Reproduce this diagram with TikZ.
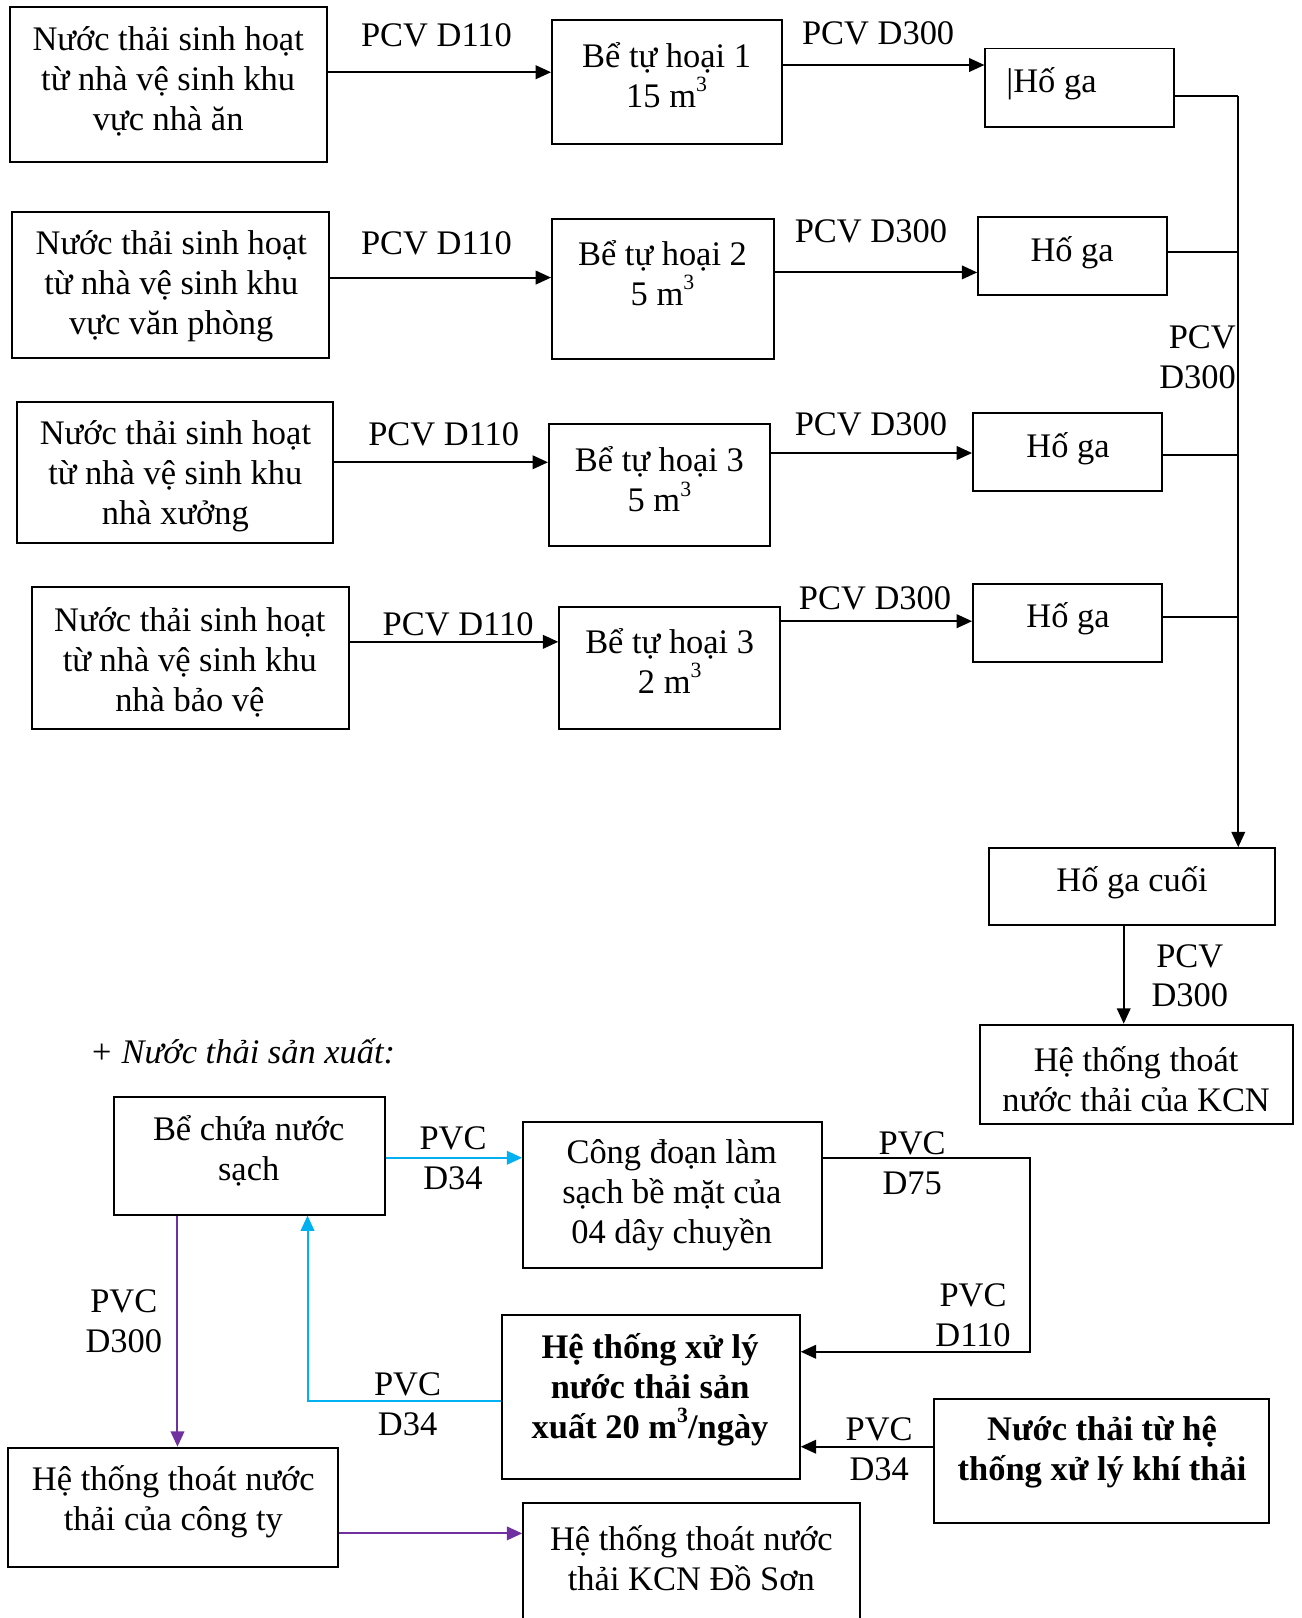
\documentclass[tikz,border=0pt]{standalone}
\usepackage{fontspec}
\setmainfont{Liberation Serif}
\usetikzlibrary{arrows.meta,fit}
\definecolor{lblue}{RGB}{0,176,240}
\definecolor{purp}{RGB}{112,48,160}
\newcommand\myexp[1]{\raisebox{0.45em}{\fontsize{12}{12}\selectfont #1}}
\begin{document}
\begin{tikzpicture}[x=0.02cm,y=-0.02cm,
  box/.style={draw, line width=1.1pt, inner sep=0pt},
  txt/.style={align=center, font=\fontsize{19}{22}\selectfont, inner sep=0pt, yshift=-1.5pt},
  bt/.style={align=center, font=\fontsize{19}{22}\selectfont\bfseries, inner sep=0pt, yshift=-1.5pt},
  conn/.style={line width=1.1pt, -{Triangle[length=8.5pt,width=7.5pt]}},
  pipe/.style={line width=1.1pt},
]
\useasboundingbox (0,0) rectangle (1261,1568);

% ---------- row 1
\node[box, fit={(10,7)(317,157)}] (a1) {};
\node[txt] (a1t) at (163,76) {Nước thải sinh hoạt\\từ nhà vệ sinh khu\\vực nhà ăn};
\node[box, fit={(535,19)(758,140)}] (b1) {};
\node[txt] (b1t) at (646,70) {Bể tự hoại 1\\15 m\myexp{3}};
\node[box, fit={(955,47)(1138,123)}] (c1) {};
\node[txt] (c1t) at (1019,79) {|Hố ga};
\draw[conn] (a1.east |- 0,70) -- (b1.west |- 0,70);
\node[txt] (l11) at (423,32) {PCV D110};
\draw[conn] (b1.east |- 0,63) -- (c1.west |- 0,63);
\node[txt] (l12) at (851,30) {PCV D300};

% ---------- row 2
\node[box, fit={(12,205)(319,347)}] (a2) {};
\node[txt] (a2t) at (166,275) {Nước thải sinh hoạt\\từ nhà vệ sinh khu\\vực văn phòng};
\node[box, fit={(535,212)(750,348)}] (b2) {};
\node[txt] (b2t) at (642,262) {Bể tự hoại 2\\5 m\myexp{3}};
\node[box, fit={(948,210)(1131,286)}] (c2) {};
\node[txt] (c2t) at (1039,242) {Hố ga};
\draw[conn] (a2.east |- 0,269) -- (b2.west |- 0,269);
\node[txt] (l21) at (423,233) {PCV D110};
\draw[conn] (b2.east |- 0,264) -- (c2.west |- 0,264);
\node[txt] (l22) at (844,222) {PCV D300};

% ---------- row 3
\node[box, fit={(16,390)(323,526)}] (a3) {};
\node[txt] (a3t) at (170,459) {Nước thải sinh hoạt\\từ nhà vệ sinh khu\\nhà xưởng};
\node[box, fit={(532,411)(746,529)}] (b3) {};
\node[txt] (b3t) at (639,462) {Bể tự hoại 3\\5 m\myexp{3}};
\node[box, fit={(943,400)(1126,476)}] (c3) {};
\node[txt] (c3t) at (1035,432) {Hố ga};
\draw[conn] (a3.east |- 0,448) -- (b3.west |- 0,448);
\node[txt] (l31) at (430,418) {PCV D110};
\draw[conn] (b3.east |- 0,439) -- (c3.west |- 0,439);
\node[txt] (l32) at (844,409) {PCV D300};

% ---------- row 4
\node[box, fit={(31,569)(338,706)}] (a4) {};
\node[txt] (a4t) at (184,639) {Nước thải sinh hoạt\\từ nhà vệ sinh khu\\nhà bảo vệ};
\node[box, fit={(542,588)(756,706)}] (b4) {};
\node[txt] (b4t) at (649,638) {Bể tự hoại 3\\2 m\myexp{3}};
\node[box, fit={(943,566)(1126,642)}] (c4) {};
\node[txt] (c4t) at (1035,597) {Hố ga};
\draw[conn] (a4.east |- 0,622) -- (b4.west |- 0,622);
\node[txt] (l41) at (444,602) {PCV D110};
\draw[conn] (b4.east |- 0,602) -- (c4.west |- 0,602);
\node[txt] (l42) at (848,577) {PCV D300};

% ---------- collector
\node[box, fit={(958,822)(1236,896)}] (d) {};
\node[txt] (dt) at (1097,853) {Hố ga cuối};
\coordinate (bus) at (1200,93);
\draw[pipe] (c1.east |- bus) -- (bus);
\draw[conn] (bus) -- (bus |- d.north);
\draw[pipe] (c2.east |- 0,244) -- (bus |- 0,244);
\draw[pipe] (c3.east |- 0,441) -- (bus |- 0,441);
\draw[pipe] (c4.east |- 0,598) -- (bus |- 0,598);
\node[txt, align=right, anchor=east] (lbus) at (1198,344) {PCV\\D300};

\node[box, fit={(950,993)(1253,1089)}] (e) {};
\node[txt] (et) at (1101,1043) {Hệ thống thoát\\nước thải của KCN};
\draw[conn] (d.south -| 1089,0) -- (e.north -| 1089,0);
\node[txt] (lde) at (1153,943) {PCV\\D300};

% ---------- production wastewater
\node[txt, font=\fontsize{19}{22}\selectfont\itshape] (title) at (235,1016) {+ Nước thải sản xuất:};

\node[box, fit={(110,1063)(373,1177)}] (f) {};
\node[txt] (ft) at (241,1113) {Bể chứa nước\\sạch};
\node[box, fit={(507,1087)(797,1229)}] (g) {};
\node[txt] (gt) at (651,1156) {Công đoạn làm\\sạch bề mặt của\\04 dây chuyền};
\draw[conn, lblue] (f.east |- 0,1122) -- (g.west |- 0,1122);
\node[txt] (lfg) at (439,1120) {PVC\\D34};

\node[box, fit={(486,1274)(775,1433)}] (h) {};
\node[bt] (ht) at (630,1344) {Hệ thống xử lý\\nước thải sản\\xuất 20 m\myexp{3}/ngày};
\coordinate (gc) at (998,1122);
\draw[conn] (g.east |- gc) -- (gc) -- (gc |- 0,1310) -- (h.east |- 0,1310);
\node[txt] (lg1) at (884,1125) {PVC\\D75};
\node[txt] (lg2) at (943,1272) {PVC\\D110};

\node[box, fit={(905,1356)(1230,1476)}] (i) {};
\node[bt] (it) at (1068,1405) {Nước thải từ hệ\\thống xử lý khí thải};
\draw[conn] (i.west |- 0,1402) -- (h.east |- 0,1402);
\node[txt] (lih) at (852,1402) {PVC\\D34};

\coordinate (hc) at (298,1358);
\draw[conn, lblue] (h.west |- hc) -- (hc) -- (hc |- f.south);
\node[txt] (lhf) at (395,1358) {PVC\\D34};

\node[box, fit={(8,1403)(328,1519)}] (j) {};
\node[txt] (jt) at (168,1453) {Hệ thống thoát nước\\thải của công ty};
\draw[conn, purp] (f.south -| 172,0) -- (j.north -| 172,0);
\node[txt] (lfj) at (120,1278) {PVC\\D300};

\node[box, fit={(507,1457)(833,1600)}] (k) {};
\node[txt] (kt) at (670,1507) {Hệ thống thoát nước\\thải KCN Đồ Sơn};
\draw[conn, purp] (j.east |- 0,1486) -- (k.west |- 0,1486);
\end{tikzpicture}
\end{document}
